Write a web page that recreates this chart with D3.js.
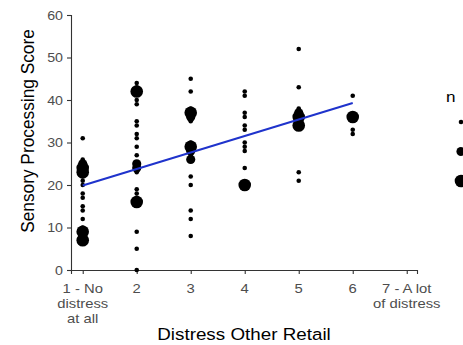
<!DOCTYPE html>
<html>
<head>
<meta charset="utf-8">
<script src="https://cdn.jsdelivr.net/npm/d3@7"></script>
<style>
html,body{margin:0;padding:0;background:#fff;}
svg{display:block;font-family:"Liberation Sans",Arial,sans-serif;}
</style>
</head>
<body>
<svg id="chart" width="463" height="345"></svg>
<script>
// ---- data ----
const xTicks = [1, 2, 3, 4, 5, 6, 7];
const xTickLabels = ["1 - No\ndistress\nat all", "2", "3", "4", "5", "6", "7 - A lot\nof distress"];
const yTicks = [0, 10, 20, 30, 40, 50, 60];

const scores1 = [31, 26, 25, 24, 23, 22, 21, 20, 18, 17, 15, 14, 12, 10, 9, 8, 7];
const counts1 = [1, 1, 2, 3, 3, 1, 1, 1, 1, 1, 1, 1, 1, 1, 3, 2, 3];
const scores2 = [44, 43, 42, 40, 39, 35, 34, 32, 31, 29, 27, 25, 24, 23, 19, 18, 17, 16, 9, 5, 0];
const counts2 = [1, 1, 3, 1, 1, 1, 1, 1, 1, 1, 1, 2, 2, 1, 1, 1, 1, 3, 1, 1, 1];
const scores3 = [45, 42, 38, 37, 36, 35, 30, 29, 28, 27, 26, 22, 20, 14, 12, 8];
const counts3 = [1, 1, 1, 3, 2, 1, 1, 3, 2, 1, 2, 1, 1, 1, 1, 1];
const scores4 = [42, 41, 37, 36, 34, 33, 30, 29, 28, 24, 20];
const counts4 = [1, 1, 1, 1, 1, 1, 1, 1, 1, 1, 3];
const scores5 = [52, 43, 38, 37, 36, 35, 34, 23, 21];
const counts5 = [1, 1, 1, 2, 3, 2, 3, 1, 1];
const scores6 = [41, 36, 33, 32];
const counts6 = [1, 3, 1, 1];

const fitX = [1, 6];
const fitY = [19.9, 39.3];

const legendCounts = [1, 2, 3];

// ---- build point table ----
const columns = [
  [1, scores1, counts1], [2, scores2, counts2], [3, scores3, counts3],
  [4, scores4, counts4], [5, scores5, counts5], [6, scores6, counts6]
];
const points = [];
columns.forEach(([xv, s, c]) => s.forEach((v, i) => points.push({x: xv, y: v, n: c[i]})));

// ---- scales ----
const x = d3.scaleLinear().domain([0.783, 7.19]).range([71, 417]);
const y = d3.scaleLinear().domain([0, 60]).range([270, 15]);
const r = d3.scaleSqrt().domain([1, 3]).range([2.3, 6.3]);

const SX = 1.14; // horizontal text stretch seen in the reference

const svg = d3.select("#chart");

// axes
const xAxis = d3.axisBottom(x).tickValues(xTicks).tickSize(4).tickFormat("");
const yAxis = d3.axisLeft(y).tickValues(yTicks).tickSize(4).tickFormat("");

const gx = svg.append("g").attr("transform", "translate(0,270)").call(xAxis);
const gy = svg.append("g").attr("transform", "translate(71,0)").call(yAxis);
[gx, gy].forEach(g => {
  g.select(".domain").attr("stroke", "#333").attr("stroke-width", 1.1);
  g.selectAll(".tick line").attr("stroke", "#333").attr("stroke-width", 1.1);
});

// x tick labels (multi-line)
xTicks.forEach((t, i) => {
  const lines = xTickLabels[i].split("\n");
  const txt = svg.append("text")
    .attr("transform", `translate(${x(t)},292.5) scale(${SX},1)`)
    .attr("text-anchor", "middle")
    .attr("font-size", 13).attr("fill", "#4d4d4d");
  lines.forEach((l, j) => {
    txt.append("tspan").attr("x", 0).attr("dy", j === 0 ? 0 : 15.5).text(l);
  });
});

// y tick labels
yTicks.forEach(t => {
  svg.append("text")
    .attr("transform", `translate(63,${y(t)}) scale(${SX},1)`)
    .attr("dy", "0.36em")
    .attr("text-anchor", "end")
    .attr("font-size", 12.5).attr("fill", "#4d4d4d")
    .text(t);
});

// axis titles
svg.append("text")
  .attr("transform", `translate(244,340) scale(${SX},1)`)
  .attr("text-anchor", "middle").attr("font-size", 16.5).attr("fill", "#000")
  .text("Distress Other Retail");
svg.append("text")
  .attr("transform", `translate(34,131) scale(1.1,1) rotate(-90)`)
  .attr("text-anchor", "middle").attr("font-size", 17.3).attr("fill", "#000")
  .text("Sensory Processing Score");

// points
svg.append("g").selectAll("circle").data(points).join("circle")
  .attr("cx", d => x(d.x)).attr("cy", d => y(d.y)).attr("r", d => r(d.n))
  .attr("fill", "#000");

// fitted line
const line = d3.line().x((d, i) => x(fitX[i])).y((d, i) => y(fitY[i]));
svg.append("path").datum(fitX).attr("d", line)
  .attr("fill", "none").attr("stroke", "#1f33cc").attr("stroke-width", 2);

// legend (cut off at the right edge)
svg.append("text").attr("transform", `translate(446,102) scale(${SX},1)`)
  .attr("font-size", 15).attr("fill", "#000").text("n");
svg.append("g").selectAll("circle").data(legendCounts).join("circle")
  .attr("cx", 461).attr("cy", (d, i) => 122 + i * 29.5)
  .attr("r", d => r(d)).attr("fill", "#000");
</script>
</body>
</html>
